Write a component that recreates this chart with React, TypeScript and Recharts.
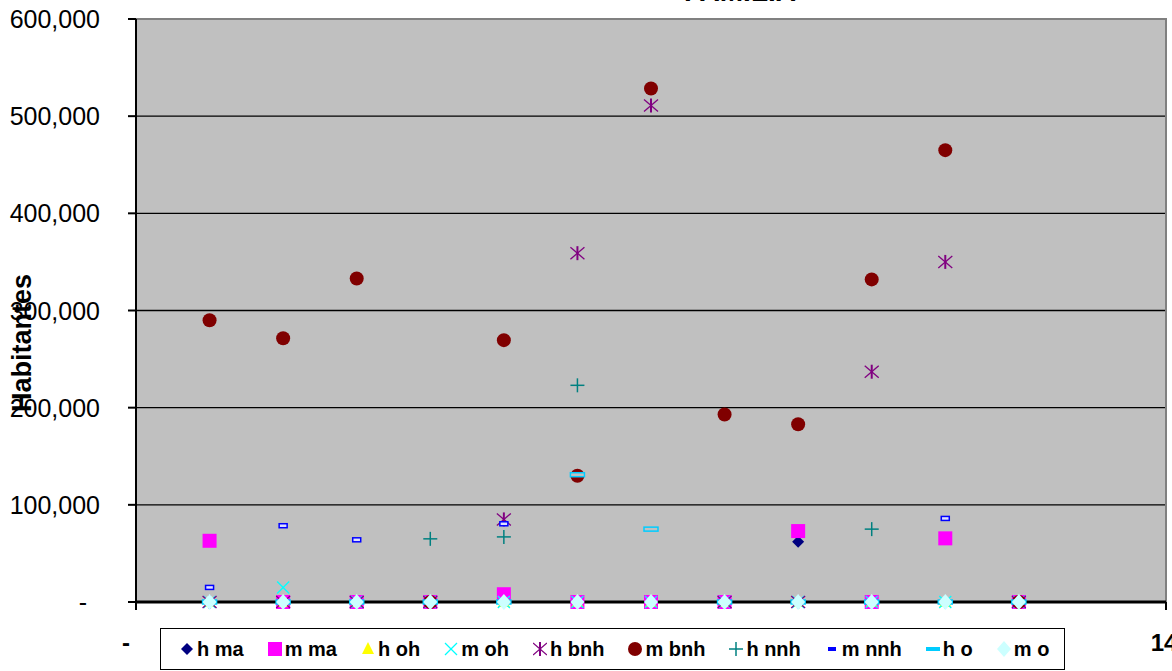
import { ScatterChart, Scatter, XAxis, YAxis, CartesianGrid, ReferenceArea } from "recharts";

const FONT = "Arial, 'Liberation Sans', sans-serif";

// x positions 1..12
const XS = [1, 2, 3, 4, 5, 6, 7, 8, 9, 10, 11, 12];

const H_MA = [0, 0, 0, 0, 0, 0, 0, 0, 62000, 0, 0, 0];
const M_MA = [63000, 0, 0, 0, 8000, 0, 0, 0, 73000, 0, 65500, 0];
const H_OH = [0, 0, 0, 0, 0, 0, 0, 0, 0, 0, 0, 0];
const M_OH = [0, 15000, 0, 0, 0, 0, 0, 0, 0, 0, 0, 0];
const H_BNH = [0, 0, 0, 0, 85000, 359000, 511000, 0, 0, 237000, 350000, 0];
const M_BNH = [290000, 271500, 333000, 0, 269500, 130000, 528500, 193000, 183000, 332000, 465000, 0];
const H_NNH = [0, 0, 0, 65000, 67000, 223000, 0, 0, 0, 75000, 0, 0];
const M_NNH = [15000, 78500, 64000, 0, 80500, 0, 0, 0, 0, 0, 86000, 0];
const H_O = [0, 0, 0, 0, 0, 131000, 75000, 0, 0, 0, 0, 0];
const M_O = [0, 0, 0, 0, 0, 0, 0, 0, 0, 0, 0, 0];

const Y_TICKS = [0, 100000, 200000, 300000, 400000, 500000, 600000];
const X_TICKS = [0, 14];

type Kind = "diamond" | "square" | "triangle" | "x" | "star" | "circle" | "plus" | "dash" | "longdash" | "bigdiamond";

const SERIES: { name: string; values: number[]; kind: Kind; color: string }[] = [
  { name: "h ma", values: H_MA, kind: "diamond", color: "#000080" },
  { name: "m ma", values: M_MA, kind: "square", color: "#FF00FF" },
  { name: "h oh", values: H_OH, kind: "triangle", color: "#FFFF00" },
  { name: "m oh", values: M_OH, kind: "x", color: "#00FFFF" },
  { name: "h bnh", values: H_BNH, kind: "star", color: "#800080" },
  { name: "m bnh", values: M_BNH, kind: "circle", color: "#800000" },
  { name: "h nnh", values: H_NNH, kind: "plus", color: "#008080" },
  { name: "m nnh", values: M_NNH, kind: "dash", color: "#0000FF" },
  { name: "h o", values: H_O, kind: "longdash", color: "#00CCFF" },
  { name: "m o", values: M_O, kind: "bigdiamond", color: "#CCFFFF" },
];

function Mark({ kind, color, cx, cy, legend }: { kind: Kind; color: string; cx: number; cy: number; legend?: boolean }) {
  switch (kind) {
    case "diamond":
      return <polygon points={`${cx},${cy - 6} ${cx + 6},${cy} ${cx},${cy + 6} ${cx - 6},${cy}`} fill={color} />;
    case "square":
      return <rect x={cx - 7} y={cy - 7} width={14} height={14} fill={color} />;
    case "triangle":
      return <polygon points={`${cx},${cy - 7} ${cx + 6},${cy + 5} ${cx - 6},${cy + 5}`} fill={color} />;
    case "x":
      return (
        <g stroke={color} strokeWidth={1.3}>
          <line x1={cx - 6} y1={cy - 6} x2={cx + 6} y2={cy + 6} />
          <line x1={cx - 6} y1={cy + 6} x2={cx + 6} y2={cy - 6} />
        </g>
      );
    case "star":
      return (
        <g stroke={color} strokeWidth={1.3}>
          <line x1={cx - 7} y1={cy - 6} x2={cx + 7} y2={cy + 6} />
          <line x1={cx - 7} y1={cy + 6} x2={cx + 7} y2={cy - 6} />
          <line x1={cx} y1={cy - 7} x2={cx} y2={cy + 7} strokeWidth={2} />
        </g>
      );
    case "circle":
      return <circle cx={cx} cy={cy} r={7} fill={color} />;
    case "plus":
      return (
        <g stroke={color} strokeWidth={1.5}>
          <line x1={cx - 7} y1={cy} x2={cx + 7} y2={cy} />
          <line x1={cx} y1={cy - 7} x2={cx} y2={cy + 7} />
        </g>
      );
    case "dash":
      return legend ? (
        <rect x={cx - 4} y={cy - 2} width={8} height={4} fill={color} />
      ) : (
        <rect x={cx - 4} y={cy - 2} width={8} height={4} fill="#E0E0FF" stroke={color} strokeWidth={1.5} />
      );
    case "longdash":
      return legend ? (
        <rect x={cx - 7} y={cy - 2} width={14} height={4} fill={color} />
      ) : (
        <rect x={cx - 7} y={cy - 2} width={14} height={4} fill="#C0C0C0" stroke={color} strokeWidth={1.5} />
      );
    case "bigdiamond":
      return <polygon points={`${cx},${cy - 8} ${cx + 7},${cy} ${cx},${cy + 8} ${cx - 7},${cy}`} fill={color} />;
  }
  return null;
}

function YTick(props: any) {
  const { x, y, payload } = props;
  const zero = payload.value === 0;
  return (
    <text x={zero ? x - 13 : x} y={y} dy="0.36em" textAnchor="end" fontSize={25} fontFamily={FONT} fill="#000">
      {zero ? "-" : Number(payload.value).toLocaleString("en-US")}
    </text>
  );
}

function XTick(props: any) {
  const { x, y, payload } = props;
  return (
    <text x={payload.value === 0 ? x - 10 : x} y={y} dy="0.71em" textAnchor="middle" fontSize={24} fontWeight="bold" fontFamily={FONT} fill="#000">
      {payload.value === 0 ? "-" : String(payload.value)}
    </text>
  );
}

function LegendBox() {
  return (
    <div
      style={{
        position: "absolute",
        left: 160,
        top: 628,
        width: 905,
        height: 42,
        boxSizing: "border-box",
        border: "1px solid #000",
        background: "#fff",
        display: "flex",
        alignItems: "center",
        paddingLeft: 19,
        gap: 24,
        fontFamily: FONT,
        fontSize: 20,
        fontWeight: "bold",
        color: "#000",
      }}
    >
      {SERIES.map((s) => (
        <div key={s.name} style={{ display: "flex", alignItems: "center", whiteSpace: "pre" }}>
          <svg width={14} height={16} style={{ marginRight: 3 }}>
            <Mark kind={s.kind} color={s.color} cx={7} cy={8} legend />
          </svg>
          <span>{s.name}</span>
        </div>
      ))}
    </div>
  );
}

export default function App() {
  return (
    <div style={{ position: "relative", width: 1172, height: 671, background: "#fff", overflow: "hidden" }}>
      <style>{"body{margin:0}"}</style>
      <ScatterChart width={1172} height={671} margin={{ top: 19, right: 6, bottom: 0, left: 0 }}>
        <CartesianGrid fill="#C0C0C0" vertical={false} stroke="#000" strokeWidth={1.3} />
        <ReferenceArea x1={0} x2={14} y1={0} y2={600000} fill="none" stroke="#808080" strokeWidth={2} />
        <XAxis
          type="number"
          dataKey="x"
          domain={[0, 14]}
          ticks={X_TICKS}
          allowDataOverflow
          tick={<XTick />}
          tickSize={8}
          tickMargin={24}
          height={69}
          axisLine={{ stroke: "#000", strokeWidth: 3 }}
          tickLine={{ stroke: "#000", strokeWidth: 2 }}
        />
        <YAxis
          type="number"
          dataKey="y"
          domain={[0, 600000]}
          ticks={Y_TICKS}
          width={136}
          tick={<YTick />}
          tickSize={8}
          tickMargin={28}
          axisLine={{ stroke: "#000", strokeWidth: 2 }}
          tickLine={{ stroke: "#000", strokeWidth: 2 }}
        />
        {SERIES.map((s) => (
          <Scatter
            key={s.name}
            name={s.name}
            data={XS.map((x, i) => ({ x, y: s.values[i] }))}
            isAnimationActive={false}
            shape={(p: any) => <Mark kind={s.kind} color={s.color} cx={p.cx} cy={p.cy} />}
          />
        ))}
      </ScatterChart>
      <div
        style={{
          position: "absolute",
          left: 0,
          top: -24,
          width: 1480,
          textAlign: "center",
          fontFamily: FONT,
          fontSize: 28,
          fontWeight: "bold",
          lineHeight: "32px",
        }}
      >
        FAMILIA
      </div>
      <div
        style={{
          position: "absolute",
          left: 22,
          top: 343,
          transform: "translate(-50%, -50%) rotate(-90deg)",
          fontFamily: FONT,
          fontSize: 27,
          fontWeight: "bold",
          whiteSpace: "nowrap",
        }}
      >
        Habitantes
      </div>
      <LegendBox />
    </div>
  );
}
